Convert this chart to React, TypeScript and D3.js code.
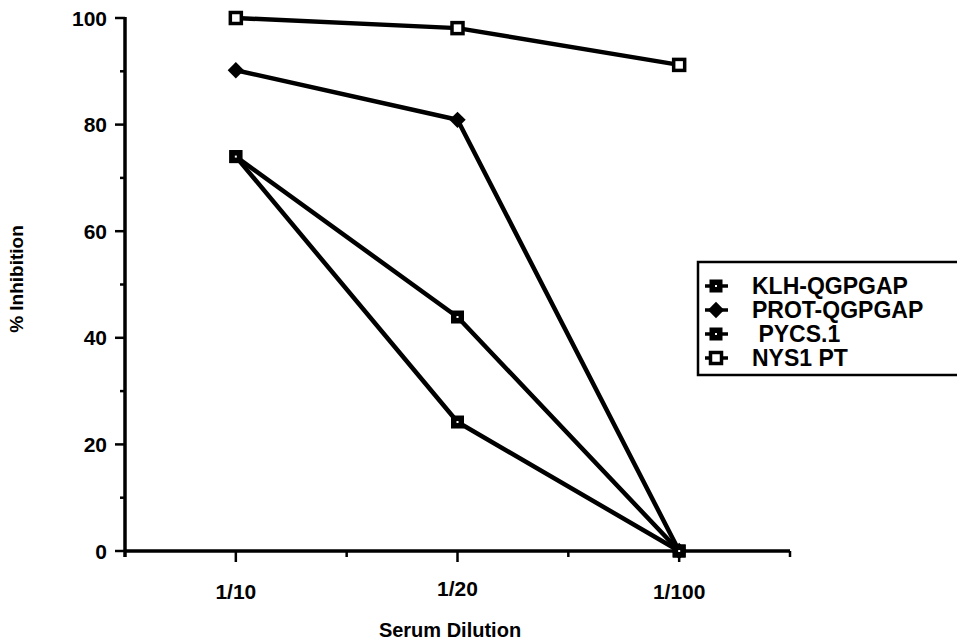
import React, { useRef, useEffect } from 'react';
import * as d3 from 'd3';

const categories = ['1/10', '1/20', '1/100'];
const klh = [74, 43.9, 0];
const prot = [90.2, 80.9, 0];
const pycs = [74, 24.2, 0];
const nys1 = [100, 98.1, 91.2];
const seriesNames = ['KLH-QGPGAP', 'PROT-QGPGAP', ' PYCS.1', 'NYS1 PT'];
const yTicks = [0, 20, 40, 60, 80, 100];

const width = 957;
const height = 641;
const font = '"Liberation Sans", Arial, Helvetica, sans-serif';

const App = () => {
  const svgRef = useRef(null);

  useEffect(() => {
    const svg = d3.select(svgRef.current);
    svg.selectAll('*').remove();

    const x = d3.scaleLinear().domain([-0.5, 2.5]).range([125, 790]);
    const y = d3.scaleLinear().domain([0, 100]).range([551, 18]);

    const g = svg.append('g');

    // y axis
    g.append('line')
      .attr('x1', x(-0.5)).attr('x2', x(-0.5))
      .attr('y1', y(100) - 1).attr('y2', y(0) + 6)
      .attr('stroke', '#000').attr('stroke-width', 3.5);
    d3.range(0, 101, 10).forEach(v => {
      const major = v % 20 === 0;
      g.append('line')
        .attr('x1', x(-0.5) - (major ? 10 : 5)).attr('x2', x(-0.5))
        .attr('y1', y(v)).attr('y2', y(v))
        .attr('stroke', '#000').attr('stroke-width', 2.5);
    });
    g.selectAll('.ylab')
      .data(yTicks)
      .enter()
      .append('text')
      .attr('x', 107)
      .attr('y', d => y(d))
      .attr('dy', '0.36em')
      .attr('text-anchor', 'end')
      .attr('font-family', font)
      .attr('font-weight', 'bold')
      .attr('font-size', 21)
      .text(d => d);

    // x axis
    g.append('line')
      .attr('x1', x(-0.5) - 1).attr('x2', x(2.5))
      .attr('y1', y(0)).attr('y2', y(0))
      .attr('stroke', '#000').attr('stroke-width', 3.5);
    d3.range(0, 6).forEach(i => {
      const v = i * 0.5;
      const major = i % 2 === 0;
      g.append('line')
        .attr('x1', x(v)).attr('x2', x(v))
        .attr('y1', y(0)).attr('y2', y(0) + (major ? 11 : 6))
        .attr('stroke', '#000').attr('stroke-width', 2.5);
    });
    g.selectAll('.xlab')
      .data(categories)
      .enter()
      .append('text')
      .attr('x', (d, i) => x(i))
      .attr('y', (d, i) => (i === 1 ? 596 : 599))
      .attr('text-anchor', 'middle')
      .attr('font-family', font)
      .attr('font-weight', 'bold')
      .attr('font-size', 21)
      .text(d => d);

    // axis titles
    g.append('text')
      .attr('transform', 'translate(23,279) rotate(-90)')
      .attr('text-anchor', 'middle')
      .attr('font-family', font)
      .attr('font-weight', 'bold')
      .attr('font-size', 19)
      .text('% Inhibition');
    g.append('text')
      .attr('x', 450)
      .attr('y', 637)
      .attr('text-anchor', 'middle')
      .attr('font-family', font)
      .attr('font-weight', 'bold')
      .attr('font-size', 20)
      .text('Serum Dilution');

    const series = [
      { name: seriesNames[0], values: klh, marker: 'dotsquare' },
      { name: seriesNames[1], values: prot, marker: 'diamond' },
      { name: seriesNames[2], values: pycs, marker: 'dotsquare' },
      { name: seriesNames[3], values: nys1, marker: 'open' },
    ];

    const line = d3.line()
      .x((d, i) => x(i))
      .y(d => y(d));

    const drawMarker = (sel, type, cx, cy) => {
      if (type === 'diamond') {
        sel.append('path')
          .attr('d', d3.symbol().type(d3.symbolDiamond2).size(170)())
          .attr('transform', `translate(${cx},${cy})`)
          .attr('fill', '#000');
      } else if (type === 'open') {
        sel.append('rect')
          .attr('x', cx - 5.5).attr('y', cy - 5.5)
          .attr('width', 11).attr('height', 11)
          .attr('fill', '#fff').attr('stroke', '#000').attr('stroke-width', 3.5);
      } else {
        sel.append('rect')
          .attr('x', cx - 6.5).attr('y', cy - 6.5)
          .attr('width', 13).attr('height', 13)
          .attr('fill', '#000');
        sel.append('rect')
          .attr('x', cx - 1).attr('y', cy - 1)
          .attr('width', 2).attr('height', 2)
          .attr('fill', '#fff');
      }
    };

    series.forEach(s => {
      g.append('path')
        .datum(s.values)
        .attr('d', line)
        .attr('fill', 'none')
        .attr('stroke', '#000')
        .attr('stroke-width', 4.5)
        .attr('stroke-linejoin', 'round');
    });
    series.forEach(s => {
      s.values.forEach((v, i) => drawMarker(g, s.marker, x(i), y(v)));
    });

    // legend
    const leg = svg.append('g');
    leg.append('rect')
      .attr('x', 698).attr('y', 262)
      .attr('width', 270).attr('height', 113)
      .attr('fill', 'none').attr('stroke', '#000').attr('stroke-width', 2.5);
    series.forEach((s, i) => {
      const ly = 286 + i * 24;
      leg.append('line')
        .attr('x1', 705).attr('x2', 728)
        .attr('y1', ly).attr('y2', ly)
        .attr('stroke', '#000').attr('stroke-width', 3.5);
      drawMarker(leg, s.marker, 716, ly);
      leg.append('text')
        .attr('x', 752)
        .attr('y', ly)
        .attr('dy', '0.36em')
        .attr('font-family', font)
        .attr('font-weight', 'bold')
        .attr('font-size', 23)
        .style('white-space', 'pre')
        .text(s.name);
    });
  }, []);

  return (
    <svg
      ref={svgRef}
      width={width}
      height={height}
      style={{ position: 'absolute', left: 0, top: 0, background: '#fff' }}
    ></svg>
  );
};

export default App;
